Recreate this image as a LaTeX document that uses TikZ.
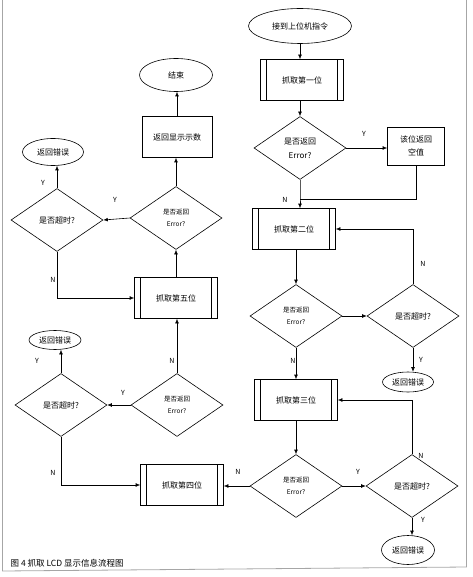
\documentclass[tikz,border=0pt]{standalone}
\usepackage{fontspec}
\setmainfont{Noto Sans CJK SC}
\usetikzlibrary{shapes.geometric,arrows.meta}

\begin{document}
\begin{tikzpicture}[x=1pt,y=-1pt,line width=0.6pt,
  every node/.style={font=\fontsize{8}{9}\selectfont},
  flow/.style={-{Latex[length=4.5pt,width=3.8pt]}},
  term/.style={draw,ellipse,inner sep=0pt},
  box/.style={draw,rectangle,inner sep=0pt,align=center},
  sub/.style={draw,rectangle,inner sep=0pt,minimum width=83,minimum height=41,
    path picture={\draw ([xshift=6pt]path picture bounding box.north west)
      -- ([xshift=6pt]path picture bounding box.south west)
      ([xshift=-6pt]path picture bounding box.north east)
      -- ([xshift=-6pt]path picture bounding box.south east);}},
  test/.style={draw,diamond,inner sep=0pt,minimum width=92,minimum height=63,align=center},
  small/.style={font=\fontsize{6.5}{7}\selectfont},
  yn/.style={font=\fontsize{7}{8}\selectfont}]
 \useasboundingbox (0,0) rectangle (472,577);
 \draw[gray!70,line width=0.8pt] (2.5,0) -- (2.5,571) -- (466.5,567) -- (466.5,0);

 \node[term,minimum width=103,minimum height=35] (start) at (300,26) {接到上位机指令};
 \node[sub] (p1) at (302,80) {抓取第一位};
 \node[test] (d1) at (300,148) {是否返回\\[5pt]Error?};
 \node[box,minimum width=57,minimum height=38] (nul) at (416,146) {该位返回\\[4pt]空值};
 \coordinate (m1) at (300,199);
 \node[sub] (p2) at (294,229) {抓取第二位};
 \node[test,small] (d2) at (296,316) {是否返回\\[5pt]Error?};
 \node[test] (t2) at (413,316) {是否超时?};
 \node[term,minimum width=51,minimum height=20] (e2) at (408,382) {返回错误};
 \node[sub] (p3) at (296,400) {抓取第三位};
 \node[test,small] (d3) at (296,486) {是否返回\\[5pt]Error?};
 \node[test] (t3) at (412,486) {是否超时?};
 \node[term,minimum width=53,minimum height=29] (e3) at (408,550) {返回错误};
 \node[sub] (p4) at (182,485) {抓取第四位};
 \node[test,small] (d4) at (177,405) {是否返回\\[5pt]Error?};
 \node[test] (t4) at (61,405) {是否超时?};
 \node[term,minimum width=52,minimum height=19] (e4) at (55,340) {返回错误};
 \node[sub] (p5) at (176,298) {抓取第五位};
 \node[test,small] (d5) at (176,218) {是否返回\\[5pt]Error?};
 \node[test] (t5) at (57,220) {是否超时?};
 \node[term,minimum width=61,minimum height=27] (e5) at (53,152) {返回错误};
 \node[box,minimum width=70,minimum height=41] (show) at (177,137) {返回显示示数};
 \node[term,minimum width=73,minimum height=33] (end) at (176,75) {结束};

 \draw[flow] (start.south) -- (start.south |- p1.north);
 \draw[flow] (p1.south -| d1.north) -- (d1.north);
 \draw[flow] (d1.east) -- (d1.east -| nul.west);
 \draw (nul.south) |- (m1);
 \draw[flow] (d1.south) -- (m1) -- (m1 |- p2.north);
 \draw[flow] (p2.south -| d2.north) -- (d2.north);
 \draw[flow] (d2.east) -- (t2.west);
 \draw[flow] (t2.south) -- (t2.south |- e2.north);
 \draw[flow] (t2.north) |- (p2.east);
 \draw[flow] (d2.south) -- (p3.north);
 \draw[flow] (p3.south) -- (d3.north);
 \draw[flow] (d3.east) -- (t3.west);
 \draw[flow] (t3.south) -- (t3.south |- e3.north);
 \draw[flow] (t3.north) |- (p3.east);
 \draw[flow] (d3.west) -- (d3.west -| p4.east);
 \draw[flow] (d4.west) -- (t4.east);
 \draw[flow] (t4.north) -- (t4.north |- e4.south);
 \draw[flow] (t4.south) |- (p4.west);
 \draw[flow] (d4.north) -- (d4.north |- p5.south);
 \draw[flow] (t5.south) |- (p5.west);
 \draw[flow] (p5.north) -- (p5.north |- d5.south);
 \draw[flow] (d5.west) -- (t5.east);
 \draw[flow] (t5.north) -- (t5.north |- e5.south);
 \draw[flow] (d5.north) -- (d5.north |- show.south);
 \draw[flow] (show.north) -- (show.north |- end.south);

 \node[yn] (y1) at (364,134) {Y};
 \node[yn] (n1) at (285,200) {N};
 \node[yn] (n2) at (423,264) {N};
 \node[yn] (y2) at (421,360) {Y};
 \node[yn] (n3) at (293,361) {N};
 \node[yn] (y3) at (358,472) {Y};
 \node[yn] (n4) at (421,456) {N};
 \node[yn] (y4) at (423,520) {Y};
 \node[yn] (n5) at (238,472) {N};
 \node[yn] (y5) at (123,393) {Y};
 \node[yn] (n6) at (53,473) {N};
 \node[yn] (y6) at (37,361) {Y};
 \node[yn] (n7) at (172,361) {N};
 \node[yn] (n8) at (53,280) {N};
 \node[yn] (y7) at (115,200) {Y};
 \node[yn] (y8) at (43,183) {Y};

 \node[anchor=west,font=\fontsize{8.5}{10}\selectfont] (cap) at (7,563) {图 4 抓取 LCD 显示信息流程图};
\end{tikzpicture}
\end{document}
